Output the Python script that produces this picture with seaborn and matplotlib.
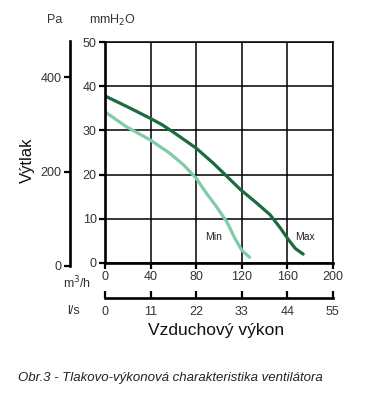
import matplotlib
matplotlib.use("Agg")
import matplotlib.pyplot as plt
import pandas as pd
import seaborn as sns

# airflow (m3/h) and pressure (mmH2O)
max_flow = [0, 20, 40, 50, 60, 80, 95, 107, 119, 133, 145, 154, 161, 167, 174]
max_press = [37.8, 35.3, 32.7, 31.3, 29.6, 26.0, 22.6, 19.6, 16.6, 13.6, 10.9, 7.9, 5.3, 3.3, 2.0]
min_flow = [0, 19, 40, 57, 69, 80, 89, 98, 107, 114, 120, 127]
min_press = [34.2, 30.8, 27.8, 24.8, 22.2, 19.2, 15.8, 12.7, 9.3, 5.6, 2.9, 1.3]

m3h_ticks = [0, 40, 80, 120, 160, 200]
ls_ticks = [0, 11, 22, 33, 44, 55]
mm_ticks = [0, 10, 20, 30, 40, 50]
pa_ticks = [0, 200, 400]

MAX_COLOR = "#1c6b3e"
MIN_COLOR = "#80cba8"
TXT = "#333333"

sns.set_theme(style="white")
plt.rcParams["font.family"] = ["Liberation Sans", "DejaVu Sans"]

df = pd.concat([
    pd.DataFrame({"flow": max_flow, "press": max_press, "mode": "Max"}),
    pd.DataFrame({"flow": min_flow, "press": min_press, "mode": "Min"}),
])

fig = plt.figure(figsize=(3.68, 3.96), dpi=100)
ax = fig.add_axes([0.2853, 0.3359, 0.619, 0.558])

sns.lineplot(data=df, x="flow", y="press", hue="mode", sort=False,
             palette={"Max": MAX_COLOR, "Min": MIN_COLOR},
             lw=2.3, legend=False, ax=ax)

ax.set_xlim(0, 200)
ax.set_ylim(0, 50)
ax.set_xticks(m3h_ticks)
ax.set_yticks(mm_ticks)
ax.grid(True, color="black", lw=1.1)
ax.set_axisbelow(True)
for side in ["top", "right"]:
    ax.spines[side].set_linewidth(1.1)
    ax.spines[side].set_color("black")
for side in ["left", "bottom"]:
    ax.spines[side].set_linewidth(1.9)
    ax.spines[side].set_color("black")
ax.tick_params(axis="both", direction="out", length=4, width=1.6,
               color="black", labelsize=9, labelcolor=TXT, pad=2,
               bottom=True, left=True)
ax.set_xlabel("")
ax.set_ylabel("")

ax.text(95, 5.8, "Min", fontsize=7.5, color="#222222", ha="center", va="center")
ax.text(176, 5.8, "Max", fontsize=7.5, color="#222222", ha="center", va="center")

# pressure in Pa on a second vertical axis
ax_pa = fig.add_axes([0.190, 0.3283, 0.0001, 0.5682])
ax_pa.set_ylim(0, 477)
ax_pa.set_yticks(pa_ticks)
ax_pa.set_xticks([])
for side in ["top", "right", "bottom"]:
    ax_pa.spines[side].set_visible(False)
ax_pa.spines["left"].set_linewidth(1.9)
ax_pa.spines["left"].set_color("black")
ax_pa.tick_params(axis="y", direction="out", length=4, width=1.6,
                  color="black", labelsize=9, labelcolor=TXT, pad=2, left=True)

# airflow in l/s on a second horizontal axis
ax_ls = fig.add_axes([0.2853, 0.2475, 0.619, 0.0001])
ax_ls.set_xlim(0, 55)
ax_ls.set_xticks(ls_ticks)
ax_ls.set_yticks([])
for side in ["top", "right", "left"]:
    ax_ls.spines[side].set_visible(False)
ax_ls.spines["bottom"].set_linewidth(1.9)
ax_ls.spines["bottom"].set_color("black")
ax_ls.tick_params(axis="x", direction="in", length=5, width=1.6,
                  color="black", labelsize=9, labelcolor=TXT, pad=6, bottom=True)

fig.text(55 / 368, 1 - 20 / 396, "Pa", fontsize=9, color=TXT, ha="center", va="center")
fig.text(113 / 368, 1 - 20 / 396, "mmH$_2$O", fontsize=9, color=TXT, ha="center", va="center")
fig.text(77 / 368, 1 - 283 / 396, "m$^3$/h", fontsize=9, color=TXT, ha="center", va="center")
fig.text(73 / 368, 1 - 311 / 396, "l/s", fontsize=9, color=TXT, ha="center", va="center")
fig.text(27 / 368, 1 - 160 / 396, "Výtlak", fontsize=12, color="#111111",
         rotation=90, ha="center", va="center")
fig.text(216 / 368, 1 - 331 / 396, "Vzduchový výkon", fontsize=12.5, color="#111111",
         ha="center", va="center")
fig.text(18 / 368, 1 - 378 / 396, "Obr.3 - Tlakovo-výkonová charakteristika ventilátora",
         fontsize=9.5, color="#222222", style="italic", ha="left", va="center",
         family=["Liberation Sans Narrow", "Liberation Sans", "DejaVu Sans"])

fig.savefig("out.png", dpi=100)
